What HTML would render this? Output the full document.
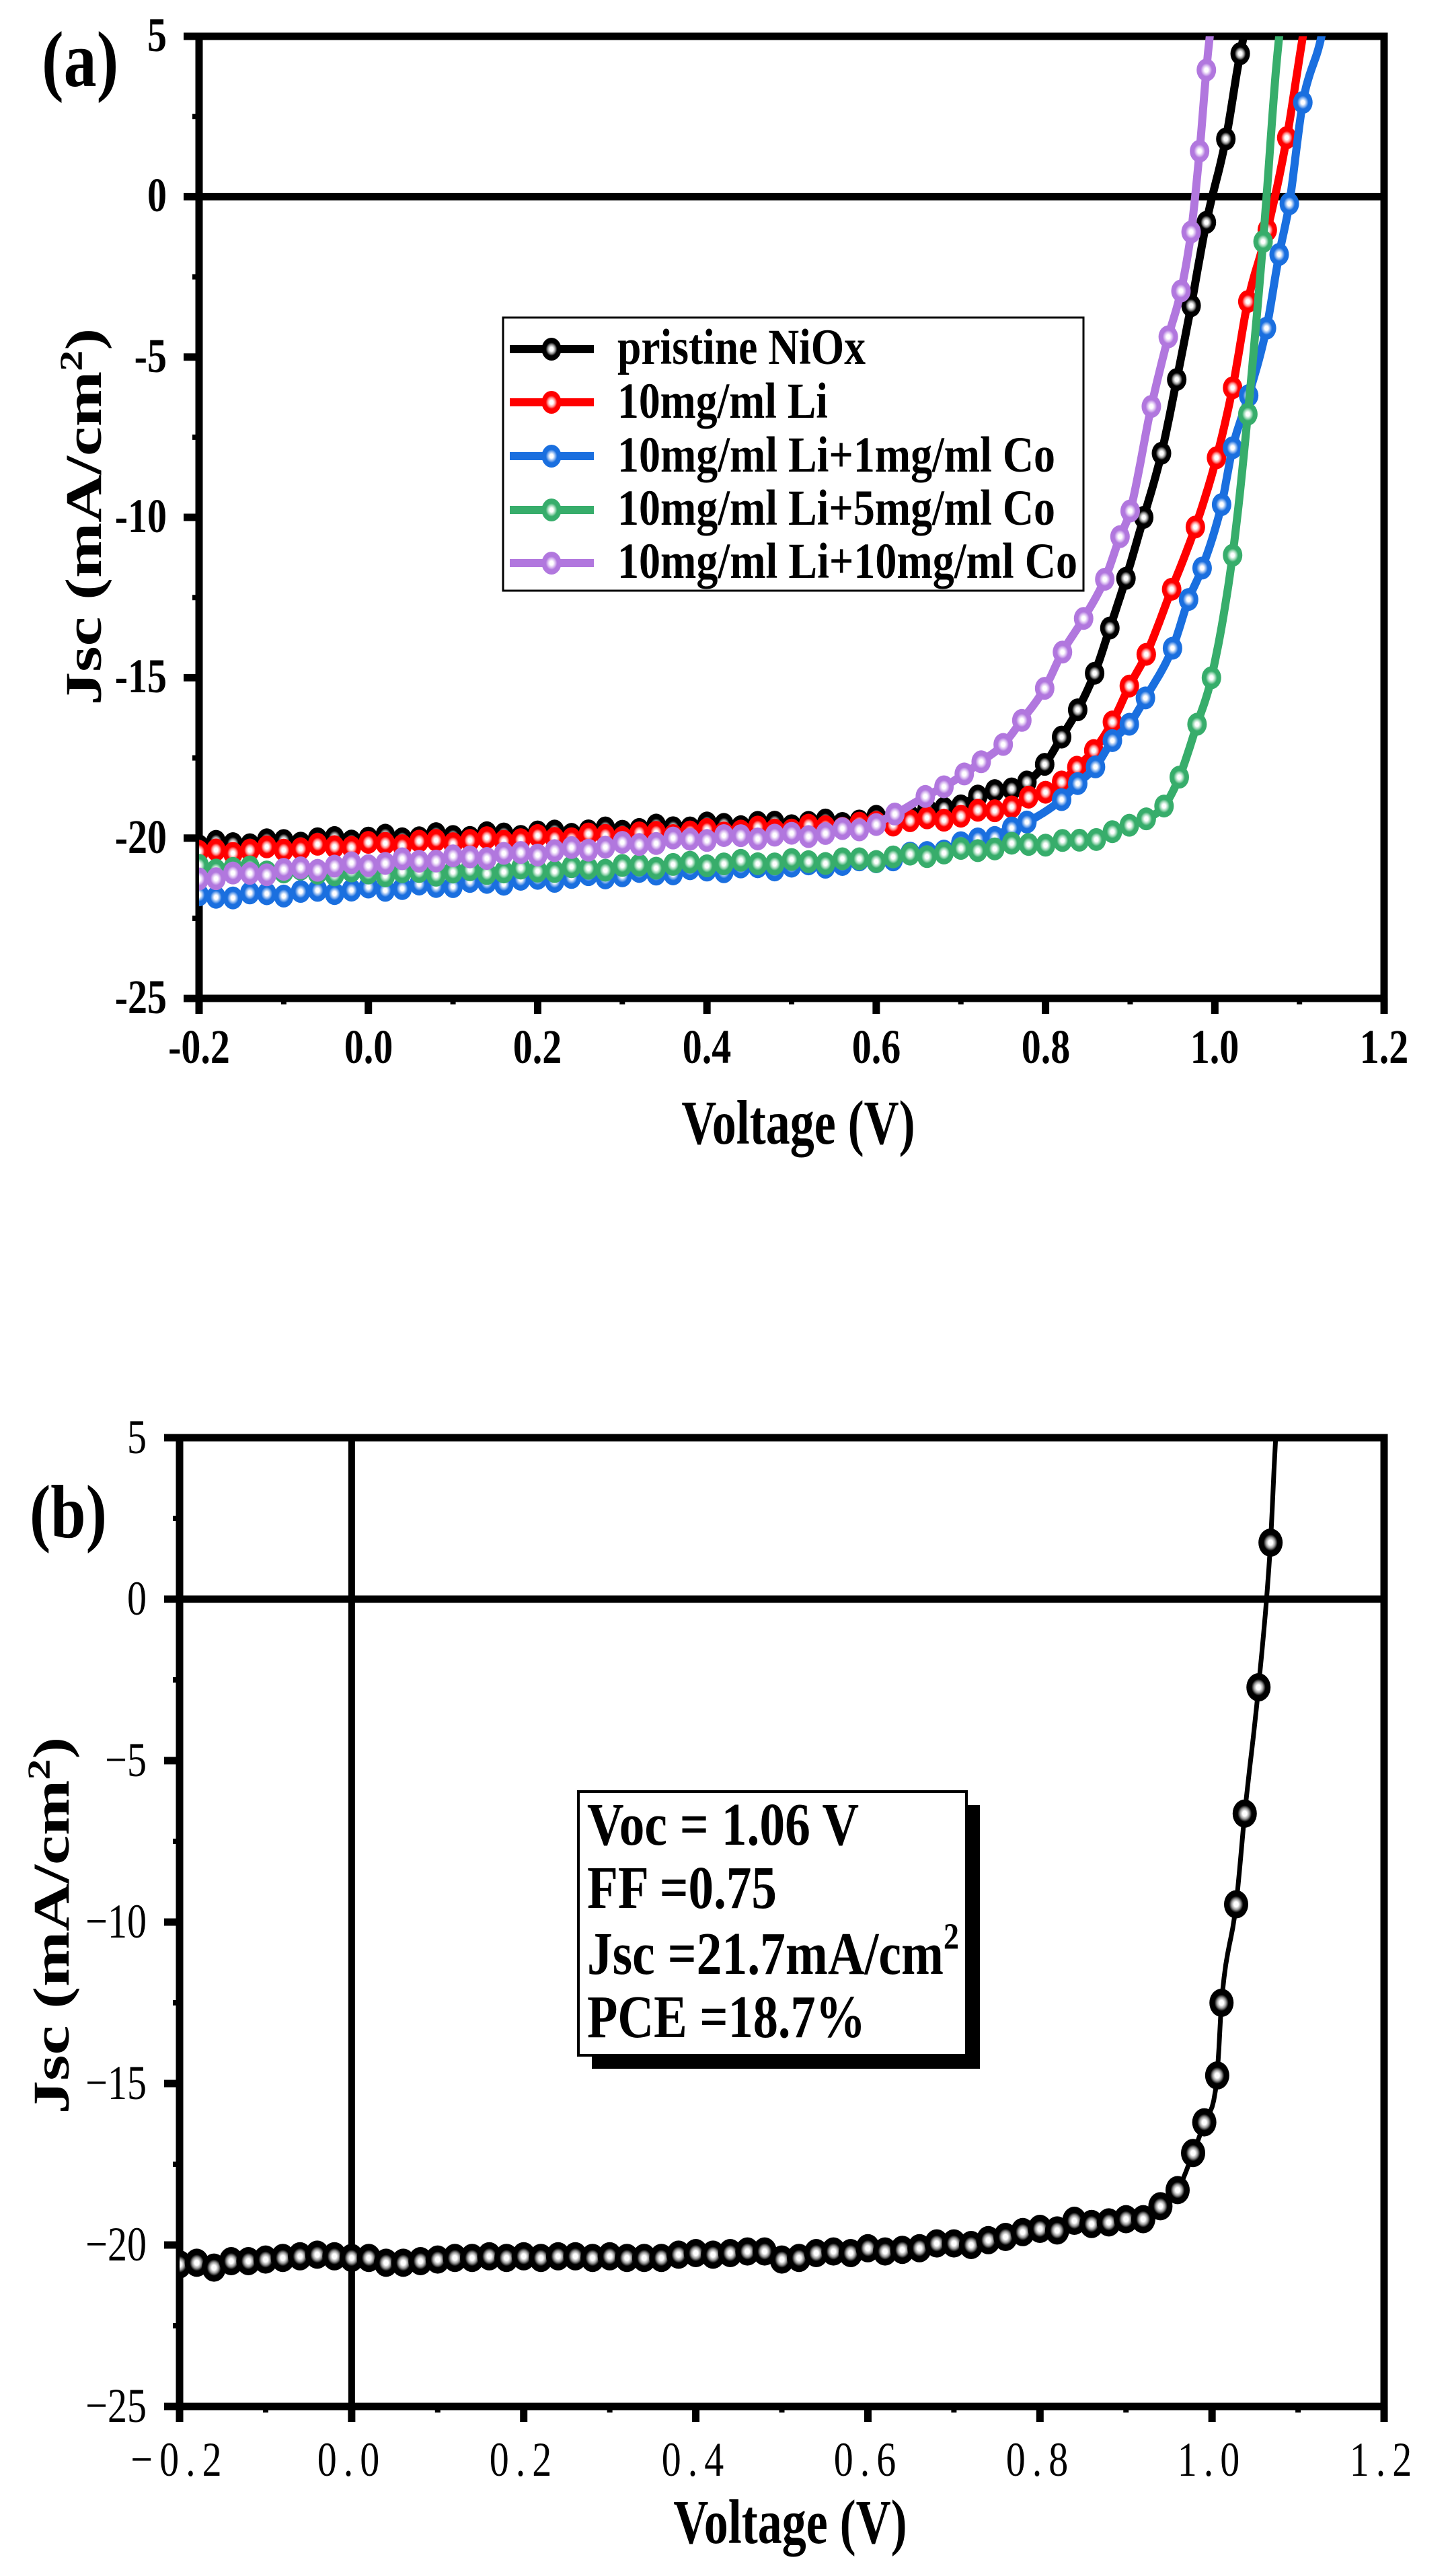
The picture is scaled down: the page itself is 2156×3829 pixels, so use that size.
<!DOCTYPE html>
<html><head><meta charset="utf-8"><style>
html,body{margin:0;padding:0;background:#fff;}
svg{display:block;}
text{font-family:"Liberation Serif",serif;fill:#000;}
</style></head><body>
<svg id="s" xmlns="http://www.w3.org/2000/svg" width="2156" height="3829" viewBox="0 0 2156 3829">
<defs>
<clipPath id="ca"><rect x="296" y="54" width="1762" height="1430"/></clipPath>
<clipPath id="cb"><rect x="267" y="2137" width="1791" height="1440"/></clipPath>
</defs>
<rect width="2156" height="3829" fill="#fff"/>
<g id="ga"></g>
<g id="gb"></g>
<!-- panel a text -->
<text transform="translate(62,128) scale(1,1.2)" font-size="98" font-weight="bold">(a)</text>
<g font-size="58" font-weight="bold" text-anchor="end">
<text transform="translate(248,76) scale(1,1.25)">5</text><text transform="translate(248,314) scale(1,1.25)">0</text><text transform="translate(248,553) scale(1,1.25)">-5</text>
<text transform="translate(248,791) scale(1,1.25)">-10</text><text transform="translate(248,1029) scale(1,1.25)">-15</text><text transform="translate(248,1268) scale(1,1.25)">-20</text><text transform="translate(248,1506) scale(1,1.25)">-25</text>
</g>
<g font-size="58" font-weight="bold" text-anchor="middle">
<text transform="translate(296,1580) scale(1,1.25)">-0.2</text><text transform="translate(548,1580) scale(1,1.25)">0.0</text><text transform="translate(799,1580) scale(1,1.25)">0.2</text>
<text transform="translate(1051,1580) scale(1,1.25)">0.4</text><text transform="translate(1303,1580) scale(1,1.25)">0.6</text><text transform="translate(1555,1580) scale(1,1.25)">0.8</text>
<text transform="translate(1806,1580) scale(1,1.25)">1.0</text><text transform="translate(2058,1580) scale(1,1.25)">1.2</text>
</g>
<text transform="translate(1187,1700) scale(1,1.3)" font-size="72" font-weight="bold" text-anchor="middle">Voltage (V)</text>
<text transform="translate(150,768) scale(1,1.3) rotate(-90)" font-size="76" font-weight="bold" text-anchor="middle">Jsc (mA/cm<tspan font-size="48" dy="-28">2</tspan><tspan dy="28">)</tspan></text>
<!-- legend -->
<rect x="748" y="472" width="863" height="406" fill="#fff" stroke="#000" stroke-width="3"/>
<g id="leg"></g>
<g font-size="60" font-weight="bold">
<text transform="translate(918,541) scale(1,1.25)" textLength="369" lengthAdjust="spacingAndGlyphs">pristine NiOx</text>
<text transform="translate(918,621) scale(1,1.25)" textLength="313" lengthAdjust="spacingAndGlyphs">10mg/ml Li</text>
<text transform="translate(918,701) scale(1,1.25)" textLength="651" lengthAdjust="spacingAndGlyphs">10mg/ml Li+1mg/ml Co</text>
<text transform="translate(918,780) scale(1,1.25)" textLength="651" lengthAdjust="spacingAndGlyphs">10mg/ml Li+5mg/ml Co</text>
<text transform="translate(918,859) scale(1,1.25)" textLength="684" lengthAdjust="spacingAndGlyphs">10mg/ml Li+10mg/ml Co</text>
</g>
<!-- panel b text -->
<text transform="translate(44,2285) scale(1,1.2)" font-size="94" font-weight="bold">(b)</text>
<g font-size="58" text-anchor="end">
<text transform="translate(218,2160) scale(1,1.25)">5</text><text transform="translate(218,2400) scale(1,1.25)">0</text><text transform="translate(218,2640) scale(1,1.25)">−5</text>
<text transform="translate(218,2880) scale(1,1.25)">−10</text><text transform="translate(218,3120) scale(1,1.25)">−15</text><text transform="translate(218,3360) scale(1,1.25)">−20</text><text transform="translate(218,3600) scale(1,1.25)">−25</text>
</g>
<g font-size="58" text-anchor="middle" letter-spacing="10">
<text transform="translate(267,3680) scale(1,1.25)">−0.2</text><text transform="translate(523,3680) scale(1,1.25)">0.0</text><text transform="translate(779,3680) scale(1,1.25)">0.2</text>
<text transform="translate(1035,3680) scale(1,1.25)">0.4</text><text transform="translate(1291,3680) scale(1,1.25)">0.6</text><text transform="translate(1547,3680) scale(1,1.25)">0.8</text>
<text transform="translate(1802,3680) scale(1,1.25)">1.0</text><text transform="translate(2058,3680) scale(1,1.25)">1.2</text>
</g>
<text transform="translate(1175,3780) scale(1,1.3)" font-size="72" font-weight="bold" text-anchor="middle">Voltage (V)</text>
<text transform="translate(102,2862) scale(1,1.3) rotate(-90)" font-size="76" font-weight="bold" text-anchor="middle">Jsc (mA/cm<tspan font-size="48" dy="-28">2</tspan><tspan dy="28">)</tspan></text>
<!-- info box -->
<rect x="880" y="2683" width="577" height="392" fill="#000"/>
<rect x="860" y="2663" width="577" height="392" fill="#fff" stroke="#000" stroke-width="4"/>
<g font-size="72" font-weight="bold">
<text transform="translate(873,2742) scale(1,1.25)" textLength="404" lengthAdjust="spacingAndGlyphs">Voc = 1.06 V</text>
<text transform="translate(873,2836) scale(1,1.25)" textLength="282" lengthAdjust="spacingAndGlyphs">FF =0.75</text>
<text transform="translate(873,2934) scale(1,1.25)" textLength="553" lengthAdjust="spacingAndGlyphs">Jsc =21.7mA/cm<tspan font-size="44" dy="-30">2</tspan></text>
<text transform="translate(873,3028) scale(1,1.25)" textLength="414" lengthAdjust="spacingAndGlyphs">PCE =18.7%</text>
</g>
</svg>
<script>
(function(){
var NS="http://www.w3.org/2000/svg",svg=document.getElementById('s'),defs=svg.querySelector('defs');
function el(t,a,p){var e=document.createElementNS(NS,t);for(var k in a)e.setAttribute(k,a[k]);(p||svg).appendChild(e);return e;}
function grad(id,c,light){var g=el('radialGradient',{id:id,cx:'50%',cy:'50%',r:'50%'},defs);
el('stop',{offset:'0%','stop-color':'#fff'},g);el('stop',{offset:'18%','stop-color':'#fff'},g);
el('stop',{offset:'38%','stop-color':light},g);el('stop',{offset:'58%','stop-color':c},g);el('stop',{offset:'100%','stop-color':c},g);}
function mono(xs,ys){var n=xs.length,d=[],m=[];for(var i=0;i<n-1;i++)d.push((ys[i+1]-ys[i])/(xs[i+1]-xs[i]));
m[0]=d[0];m[n-1]=d[n-2];for(i=1;i<n-1;i++)m[i]=(d[i-1]*d[i]<=0)?0:(d[i-1]+d[i])/2;
for(i=0;i<n-1;i++){if(d[i]==0){m[i]=0;m[i+1]=0;continue;}var a=m[i]/d[i],b=m[i+1]/d[i],s=a*a+b*b;if(s>9){var t=3/Math.sqrt(s);m[i]=t*a*d[i];m[i+1]=t*b*d[i];}}
return function(x){var i=0;if(x<=xs[0])return ys[0];if(x>=xs[n-1])return ys[n-1];while(i<n-2&&x>xs[i+1])i++;
var h=xs[i+1]-xs[i],t=(x-xs[i])/h,t2=t*t,t3=t2*t;return (2*t3-3*t2+1)*ys[i]+(t3-2*t2+t)*h*m[i]+(-2*t3+3*t2)*ys[i+1]+(t3-t2)*h*m[i+1];};}
var XA=function(v){return 296+(v+0.2)*1258.6;},YA=function(j){return 54+(5-j)*47.67;};
var XB=function(v){return 267+(v+0.2)*1279.3;},YB=function(j){return 2137+(5-j)*48;};
var ga=document.getElementById('ga'),gb=document.getElementById('gb');
function axes(g,X,Y,x0,x1,y0,y1){
el('line',{x1:x0,y1:Y(0),x2:x1,y2:Y(0),stroke:'#000','stroke-width':11},g);
for(var v=-25;v<=5;v+=5){el('line',{x1:x0-23,y1:Y(v),x2:x0,y2:Y(v),stroke:'#000','stroke-width':11},g);}
for(v=-22.5;v<5;v+=5){el('line',{x1:x0-10,y1:Y(v),x2:x0,y2:Y(v),stroke:'#000','stroke-width':8},g);}
for(var k=0;k<=7;k++){var xx=X(-0.2+k*0.2);el('line',{x1:xx,y1:y1,x2:xx,y2:y1+23,stroke:'#000','stroke-width':11},g);}
for(k=0;k<7;k++){xx=X(-0.1+k*0.2);el('line',{x1:xx,y1:y1,x2:xx,y2:y1+9,stroke:'#000','stroke-width':8},g);}
el('rect',{x:x0,y:y0,width:x1-x0,height:y1-y0,fill:'none',stroke:'#000','stroke-width':11},g);
}
axes(ga,XA,YA,296,2058,54,1484);
axes(gb,XB,YB,267,2058,2137,3577);
el('line',{x1:XB(0),y1:2137,x2:XB(0),y2:3577,stroke:'#000','stroke-width':10},gb);

var series=[
{c:'#000000',l:'#9a9a9a',T:0.77,top:1.04,
 p:[[-0.2,-20.2],[0,-20.0],[0.2,-19.85],[0.4,-19.6],[0.6,-19.4],[0.68,-19.07],[0.758,-18.4],[0.778,-18.25],[0.799,-17.7],[0.819,-16.85],[0.838,-16.0],[0.858,-14.86],[0.876,-13.45],[0.895,-11.9],[0.916,-10.0],[0.937,-8.0],[0.955,-5.7],[0.972,-3.4],[0.99,-0.8],[1.013,1.8],[1.03,4.46]]},
{c:'#ff0000',l:'#ff9a9a',T:0.81,top:1.104,
 p:[[-0.2,-20.45],[0,-20.2],[0.2,-20.0],[0.4,-19.8],[0.6,-19.55],[0.7,-19.3],[0.78,-18.8],[0.819,-18.25],[0.837,-17.79],[0.857,-17.27],[0.879,-16.38],[0.899,-15.26],[0.919,-14.27],[0.949,-12.24],[0.977,-10.3],[1.002,-8.14],[1.021,-5.96],[1.039,-3.27],[1.062,-1.04],[1.085,1.84],[1.104,5.0]]},
{c:'#1a6fdf',l:'#8fb8f0',T:0.77,top:1.126,
 p:[[-0.2,-21.85],[0,-21.6],[0.2,-21.3],[0.4,-21.0],[0.6,-20.7],[0.7,-20.2],[0.778,-19.5],[0.819,-18.8],[0.838,-18.3],[0.859,-17.78],[0.879,-16.96],[0.899,-16.45],[0.918,-15.63],[0.95,-14.08],[0.969,-12.56],[0.985,-11.58],[1.008,-9.6],[1.021,-7.83],[1.04,-6.2],[1.061,-4.1],[1.076,-1.8],[1.088,-0.22],[1.104,2.94],[1.126,5.0]]},
{c:'#37ad6b',l:'#a5dcbc',T:0.87,top:1.076,
 p:[[-0.2,-20.9],[0,-21.1],[0.2,-21.0],[0.4,-20.8],[0.6,-20.65],[0.7,-20.4],[0.8,-20.15],[0.838,-20.1],[0.879,-19.8],[0.899,-19.6],[0.919,-19.4],[0.94,-19.0],[0.958,-18.1],[0.979,-16.45],[0.996,-15.0],[1.021,-11.18],[1.039,-6.78],[1.057,-1.4],[1.076,5.0]]},
{c:'#b177de',l:'#dcc0f2',T:0.61,top:0.994,
 p:[[-0.2,-21.25],[0,-20.8],[0.2,-20.45],[0.4,-20.0],[0.58,-19.7],[0.622,-19.25],[0.658,-18.7],[0.68,-18.4],[0.704,-18.0],[0.724,-17.62],[0.75,-17.08],[0.772,-16.33],[0.799,-15.33],[0.82,-14.2],[0.845,-13.15],[0.87,-11.93],[0.888,-10.6],[0.9,-9.8],[0.925,-6.54],[0.945,-4.37],[0.96,-2.94],[0.972,-1.1],[0.982,1.42],[0.99,3.95],[0.994,5.0]]}
];
var cg=el('g',{'clip-path':'url(#ca)'},ga);
series.forEach(function(s,i){
 grad('g'+i,s.c,s.l);
 var xs=s.p.map(function(q){return q[0];}),ys=s.p.map(function(q){return q[1];});
 xs.push(s.top+0.02);ys.push(8);
 var f=mono(xs,ys),d='';
 for(var v=-0.2;v<=s.top+0.01;v+=0.002){d+=(d?'L':'M')+XA(v).toFixed(1)+','+YA(f(v)).toFixed(1);}
 el('path',{d:d,fill:'none',stroke:s.c,'stroke-width':12,'stroke-linejoin':'round'},cg);
 var g=el('g',{},cg);
 for(v=-0.2;v<s.T;v+=0.02){var w=Math.sin(v*97+i)*0.08;el('ellipse',{cx:XA(v),cy:YA(f(v)+w),rx:14.5,ry:17,fill:'url(#g'+i+')'},g);}
 s.p.forEach(function(q){if(q[0]>=s.T&&q[1]<5)el('ellipse',{cx:XA(q[0]),cy:YA(q[1]),rx:14.5,ry:17,fill:'url(#g'+i+')'},g);});
 var ly=[519,598,678,758,837][i];
 el('line',{x1:758,y1:ly,x2:883,y2:ly,stroke:s.c,'stroke-width':12},document.getElementById('leg'));
 el('ellipse',{cx:820,cy:ly,rx:14.5,ry:17,fill:'url(#g'+i+')'},document.getElementById('leg'));
});
grad('gk','#000','#9a9a9a');
var bp=[[-0.2,-20.6],[-0.18,-20.55],[-0.16,-20.7],[-0.14,-20.5],[-0.12,-20.5],[-0.1,-20.45],[-0.08,-20.4],[-0.06,-20.35],[-0.04,-20.3],[-0.02,-20.35],[0,-20.4],[0.02,-20.4],[0.04,-20.55],[0.06,-20.55],[0.08,-20.5],[0.1,-20.45],[0.12,-20.4],[0.14,-20.4],[0.16,-20.35],[0.18,-20.4],[0.2,-20.35],[0.22,-20.4],[0.24,-20.35],[0.26,-20.35],[0.28,-20.4],[0.3,-20.35],[0.32,-20.4],[0.34,-20.4],[0.36,-20.4],[0.38,-20.3],[0.4,-20.25],[0.42,-20.3],[0.44,-20.25],[0.46,-20.2],[0.48,-20.2],[0.5,-20.45],[0.52,-20.4],[0.54,-20.25],[0.56,-20.2],[0.58,-20.25],[0.6,-20.1],[0.62,-20.2],[0.64,-20.15],[0.66,-20.1],[0.68,-19.95],[0.7,-19.95],[0.72,-20.0],[0.74,-19.85],[0.76,-19.75],[0.78,-19.6],[0.8,-19.5],[0.82,-19.55],[0.84,-19.25],[0.86,-19.35],[0.88,-19.3],[0.9,-19.2],[0.92,-19.2],[0.94,-18.8],[0.96,-18.3],[0.978,-17.15],[0.991,-16.2],[1.006,-14.75],[1.011,-12.5],[1.028,-9.45],[1.038,-6.64],[1.054,-2.73],[1.068,1.75]];
var bx=[-0.2,0,0.2,0.4,0.6,0.7,0.8,0.86,0.92,0.94,0.96,0.978,0.991,1.006,1.011,1.028,1.038,1.054,1.068,1.074,1.09],
    by=[-20.55,-20.4,-20.35,-20.25,-20.15,-19.95,-19.5,-19.3,-19.15,-18.8,-18.3,-17.15,-16.2,-14.75,-12.5,-9.45,-6.64,-2.73,1.75,5.0,9];
var fb=mono(bx,by),d='';
for(var v=-0.2;v<=1.08;v+=0.002){d+=(d?'L':'M')+XB(v).toFixed(1)+','+YB(fb(v)).toFixed(1);}
var cgb=el('g',{'clip-path':'url(#cb)'},gb);
el('path',{d:d,fill:'none',stroke:'#000','stroke-width':7},cgb);
bp.forEach(function(q){el('ellipse',{cx:XB(q[0]),cy:YB(q[1]),rx:18,ry:21,fill:'url(#gk)'},cgb);});
})();
</script>
</body></html>
